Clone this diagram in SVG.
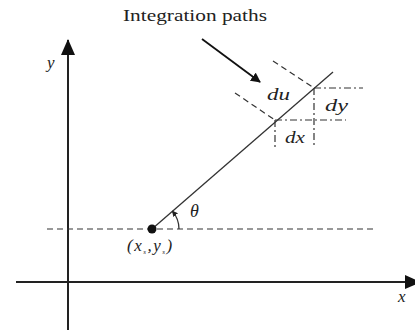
<svg xmlns="http://www.w3.org/2000/svg" width="415" height="330" viewBox="0 0 415 330">
<style>
.ax{stroke:#222;stroke-width:2;fill:none}
.ln{stroke:#333;stroke-width:1.3;fill:none}
.dash{stroke:#333;stroke-width:1.2;fill:none;stroke-dasharray:6,4}
.dd{stroke:#333;stroke-width:1.2;fill:none;stroke-dasharray:7,3,2,3}
.t{font-family:"Liberation Serif","Times New Roman",serif;fill:#222}
.i{font-family:"Liberation Serif","Times New Roman",serif;font-style:italic;fill:#222}
</style>
<defs>
<marker id="ah" markerWidth="10" markerHeight="10" refX="9" refY="5" orient="auto" markerUnits="userSpaceOnUse">
<path d="M0,0 L10,5 L0,10 Z" fill="#111"/>
</marker>
<marker id="axh" markerWidth="16" markerHeight="14" refX="15" refY="7" orient="auto" markerUnits="userSpaceOnUse">
<path d="M0,0 L16,7 L0,14 Z" fill="#111"/>
</marker>
<marker id="sm" markerWidth="6" markerHeight="6" refX="5" refY="3" orient="auto" markerUnits="userSpaceOnUse">
<path d="M0,0 L6,3 L0,6 Z" fill="#222"/>
</marker>
</defs>
<rect width="415" height="330" fill="#fff"/>
<g id="axes">
<line class="ax" x1="68" y1="330" x2="68" y2="40" marker-end="url(#axh)"/>
<line class="ax" x1="16" y1="282" x2="420" y2="282" marker-end="url(#axh)"/>
<text class="i" x="47" y="68" font-size="17">y</text>
<text class="i" x="398" y="302" font-size="17">x</text>
</g>
<g id="connectors">
<line class="dash" x1="47" y1="229" x2="376" y2="229"/>
<line class="ln" x1="152" y1="229" x2="333" y2="72"/>
<line class="dash" x1="273" y1="61" x2="314" y2="88"/>
<line class="dash" x1="235" y1="93" x2="275" y2="120"/>
<line class="dd" x1="314" y1="88" x2="363" y2="88"/>
<line class="dd" x1="314" y1="88" x2="314" y2="148"/>
<line class="dd" x1="275" y1="120" x2="346" y2="120"/>
<line class="dd" x1="275" y1="120" x2="275" y2="148"/>
<line stroke="#111" stroke-width="1.8" x1="202" y1="39" x2="260" y2="82" marker-end="url(#ah)"/>
<path class="ln" d="M179,229 A27,27 0 0 0 172.5,211.3" marker-end="url(#sm)"/>
</g>
<g id="source">
<circle cx="152" cy="229" r="4.5" fill="#111"/>
<text class="i" x="127" y="251" font-size="17" letter-spacing="1.5">(x<tspan font-size="7" dy="3">s</tspan><tspan dy="-3">,y</tspan><tspan font-size="7" dy="3">s</tspan><tspan dy="-3">)</tspan></text>
</g>
<g id="labels">
<text class="t" x="123" y="21" font-size="17" textLength="144" lengthAdjust="spacingAndGlyphs">Integration paths</text>
<text class="i" x="267" y="100" font-size="17" textLength="23" lengthAdjust="spacingAndGlyphs">du</text>
<text class="i" x="325" y="111" font-size="17" textLength="23" lengthAdjust="spacingAndGlyphs">dy</text>
<text class="i" x="285" y="143" font-size="17" textLength="20" lengthAdjust="spacingAndGlyphs">dx</text>
<text class="i" x="190" y="217" font-size="18">θ</text>
</g>
</svg>
